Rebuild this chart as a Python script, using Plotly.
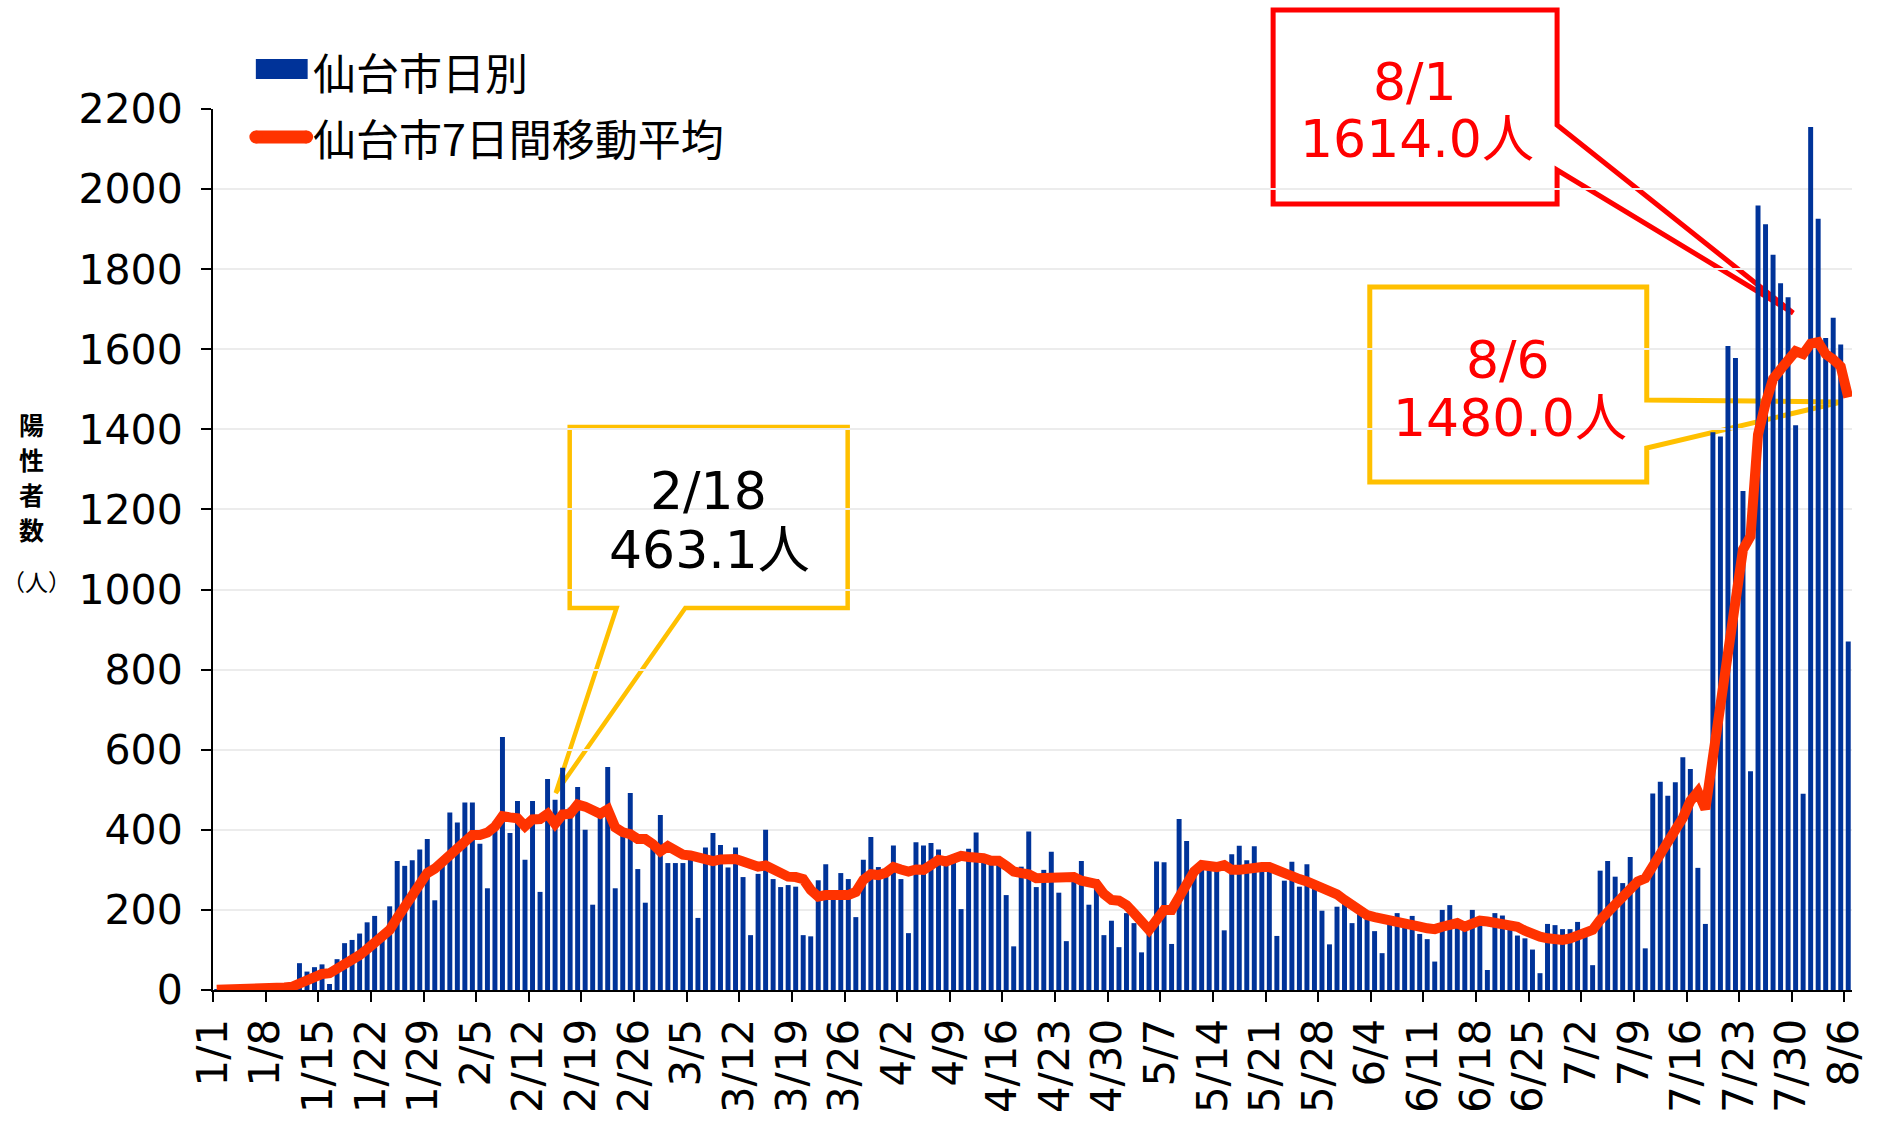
import plotly.graph_objects as go

# ---------------- data ----------------
tick_labels = ["1/1", "1/8", "1/15", "1/22", "1/29", "2/5", "2/12", "2/19", "2/26",
               "3/5", "3/12", "3/19", "3/26", "4/2", "4/9", "4/16", "4/23", "4/30",
               "5/7", "5/14", "5/21", "5/28", "6/4", "6/11", "6/18", "6/25",
               "7/2", "7/9", "7/16", "7/23", "7/30", "8/6"]

# 仙台市日別 (1/1 .. 8/6)
daily = [
    1, 0, 2, 3, 2, 5, 6, 8, 9, 12, 14,                      # 1/1-1/11
    67, 46, 57, 64, 15, 77, 117, 125, 141, 169, 185, 140,   # 1/12-1/23
    209, 322, 310, 324, 351, 377, 224, 325,                 # 1/24-1/31
    443, 418, 468, 468, 365, 254, 420, 632, 392, 472,       # 2/1-2/10
    325, 472, 245, 527, 475, 555, 455, 507, 400, 213,       # 2/11-2/20
    445, 557, 254, 390, 492, 302, 218, 362,                 # 2/21-2/28
    437, 317, 317, 317, 333, 180, 356, 392, 362, 306,       # 3/1-3/10
    356, 282, 137, 290, 400, 277, 257, 262, 258, 137,       # 3/11-3/20
    134, 274, 314, 236, 292, 277, 182, 325, 382, 307, 293,  # 3/21-3/31
    361, 277, 142, 369, 361, 367, 351, 320, 325, 202,       # 4/1-4/10
    353, 393, 328, 322, 322, 237, 109, 308, 396, 257,       # 4/11-4/20
    300, 345, 243, 122, 282, 322, 213, 277, 137, 173,       # 4/21-4/30
    107, 192, 167, 94, 142, 321, 319, 115, 427, 372,        # 5/1-5/10
    295, 315, 310, 305, 149, 339, 360, 324, 359, 305,       # 5/11-5/20
    305, 135, 273, 320, 258, 314, 260, 198, 114, 208, 222,  # 5/21-5/31
    167, 195, 185, 147, 92, 172, 192, 168, 185, 140,        # 6/1-6/10
    127, 71, 200, 212, 165, 150, 200, 170, 50, 192,         # 6/11-6/20
    186, 158, 136, 129, 101, 42, 165, 162, 152, 152,        # 6/21-6/30
    170, 140, 62, 298, 322, 283, 267, 332, 268, 104,        # 7/1-7/10
    491, 520, 485, 519, 581, 552, 305, 165, 1393, 1382,     # 7/11-7/20
    1608, 1578, 1246, 546, 1959, 1912, 1836, 1765, 1730, 1410,  # 7/21-7/30
    490, 2155, 1926, 1628, 1679, 1612, 870,                 # 7/31-8/6
]

# 仙台市7日間移動平均 (1/1 .. 8/6)
ma7 = [
    0.5, 0.6, 0.8, 1.1, 1.3, 2.0, 2.7, 3.7, 5.0, 6.4, 8.0,
    17, 24, 31, 40, 42, 52, 66, 75, 87, 102, 118, 136,
    150, 180, 208, 237, 265, 292, 303, 320,
    338, 354, 370, 387, 387, 393, 408, 434, 431, 429,
    409, 426, 427, 440, 415, 438, 440, 463.1, 458, 450,
    440, 451, 406, 394, 389, 377, 377, 364,
    346, 359, 350, 338, 336, 332, 327, 322, 326, 327,
    327, 321, 314, 308, 311, 300, 292, 283, 282, 277,
    250, 233, 237, 236, 235, 237, 245, 275, 289, 287, 293,
    307, 301, 296, 301, 300, 312, 325, 321, 327, 335,
    332, 333, 329, 323, 323, 310, 296, 292, 289, 279,
    279, 283, 283, 285, 282, 273, 267, 265, 240, 225,
    223, 212, 192, 171, 150, 175, 200, 200, 233, 262,
    296, 312, 310, 307, 312, 300, 300, 304, 308, 307,
    307, 298, 289, 281, 277, 271, 262, 254, 250, 239, 225,
    210, 197, 187, 182, 179, 173, 170, 168, 164, 158,
    154, 152, 158, 165, 167, 158, 167, 173, 171, 168,
    162, 161, 158, 148, 137, 133, 129, 125, 125, 129,
    136, 142, 150, 175, 196, 215, 233, 254, 271, 279,
    308, 337, 367, 400, 430, 472, 495, 452, 585, 708,
    862, 1002, 1100, 1133, 1387, 1465, 1526, 1550, 1573, 1595,
    1588, 1614.0, 1618, 1588, 1575, 1557, 1480.0,
]

y_title_chars = ["陽", "性", "者", "数"]
y_title_unit = "（人）"

days = list(range(len(daily)))
tick_pos = [i - 0.5 for i in range(0, len(daily), 7)]

# ---------------- styling ----------------
FONT = "DejaVu Sans, Noto Sans CJK JP, sans-serif"
JFONT = "Noto Sans CJK JP, DejaVu Sans, sans-serif"
BLUE = "#003399"
ORANGE = "#FF3300"
RED = "#FF0000"
YELLOW = "#FFC000"

W, H = 1880, 1125
L, R, T, B = 213, 1858, 109, 990   # plot area in pixels


def fx(px):
    return (px - L) / (R - L)


def fy(py):
    return (B - py) / (B - T)


def path(points):
    s = "M " + " L ".join(f"{fx(a):.5f},{fy(b):.5f}" for a, b in points)
    return s + " Z"


fig = go.Figure()
fig.add_trace(go.Bar(x=days, y=daily, name="仙台市日別",
                     marker=dict(color=BLUE, line=dict(width=0))))
fig.add_trace(go.Scatter(x=days, y=ma7, name="仙台市7日間移動平均", mode="lines",
                         line=dict(color=ORANGE, width=10)))

shapes = []
# legend symbols
shapes.append(dict(type="rect", xref="paper", yref="paper",
                   x0=fx(256), x1=fx(308), y0=fy(79), y1=fy(59),
                   fillcolor=BLUE, line=dict(width=0)))
shapes.append(dict(type="line", xref="paper", yref="paper",
                   x0=fx(256), x1=fx(307), y0=fy(137), y1=fy(137),
                   line=dict(color=ORANGE, width=13)))
for cx in (256, 307):
    shapes.append(dict(type="circle", xref="paper", yref="paper",
                       x0=fx(cx - 6.5), x1=fx(cx + 6.5), y0=fy(143.5), y1=fy(130.5),
                       fillcolor=ORANGE, line=dict(width=0)))

# callouts
callouts = [
    (YELLOW, 4.5, [(571, 427), (850, 427), (850, 608), (687, 608), (557, 793),
                   (618, 608), (571, 608)]),
    (RED, 5, [(1277, 10), (1562, 10), (1562, 125), (1799, 313), (1562, 170),
              (1562, 204), (1277, 204)]),
    (YELLOW, 5, [(1374, 287), (1652, 287), (1652, 400), (1847, 402), (1652, 448),
                 (1652, 482), (1374, 482)]),
]
for col, lw, pts in callouts:
    shapes.append(dict(type="path", xref="paper", yref="paper", path=path(pts),
                       fillcolor="white", line=dict(color=col, width=lw),
                       layer="between"))

annotations = []


def ann(text, px, py, size, color="black", xanchor="center", family=FONT, pad=1):
    annotations.append(dict(text=text, x=fx(px), y=fy(py), xref="paper", yref="paper",
                            xanchor=xanchor, yanchor="middle", showarrow=False,
                            borderpad=pad,
                            font=dict(size=size, color=color, family=family)))


# legend texts
ann("仙台市日別", 311, 71, 43, xanchor="left", family=JFONT)
ann("仙台市7日間移動平均", 311, 137, 43, xanchor="left", family=JFONT)

# y-axis title (stacked vertically)
for k, ch in enumerate(y_title_chars):
    ann(f"<b>{ch}</b>", 31, 424 + k * 35, 25, family=JFONT, pad=0)
ann(y_title_unit, 36, 581, 23, family=JFONT, pad=0)

# callout texts
i218 = tick_labels.index("2/19") * 7 - 1
ann("2/18", 710, 491, 52)
ann(f"{ma7[i218]:.1f}人", 711, 550, 52)
i801 = tick_labels.index("7/30") * 7 + 2
ann("8/1", 1419, 82, 52, color=RED)
ann(f"{ma7[i801]:.1f}人", 1421, 139, 52, color=RED)
ann("8/6", 1513, 360, 52, color=RED)
ann(f"{ma7[-1]:.1f}人", 1515, 418, 52, color=RED)

fig.update_layout(
    width=W, height=H,
    margin=dict(l=L, r=W - R, t=T, b=H - B, pad=0),
    paper_bgcolor="white", plot_bgcolor="white",
    showlegend=False, bargap=0.34,
    font=dict(family=FONT, color="black"),
    shapes=shapes, annotations=annotations,
)
fig.update_xaxes(
    range=[-0.5, len(daily) - 0.5], tickmode="array", tickvals=tick_pos, ticktext=tick_labels,
    tickangle=-90, tickfont=dict(size=42, color="black", family=FONT),
    ticks="outside", ticklen=10, tickwidth=2, tickcolor="black",
    showline=True, linecolor="black", linewidth=2, showgrid=False, zeroline=False,
)
fig.update_yaxes(
    range=[0, 2200], dtick=200, tickfont=dict(size=41, color="black", family=FONT),
    ticks="outside", ticklen=10, tickwidth=2, tickcolor="black", ticklabelstandoff=10,
    showline=True, linecolor="black", linewidth=2,
    showgrid=True, gridcolor="#ECECEC", gridwidth=2, zeroline=False,
)

fig.write_html("out.html", config={"displayModeBar": False},
               post_script="document.body.style.margin='0';document.body.style.overflow='hidden';")
